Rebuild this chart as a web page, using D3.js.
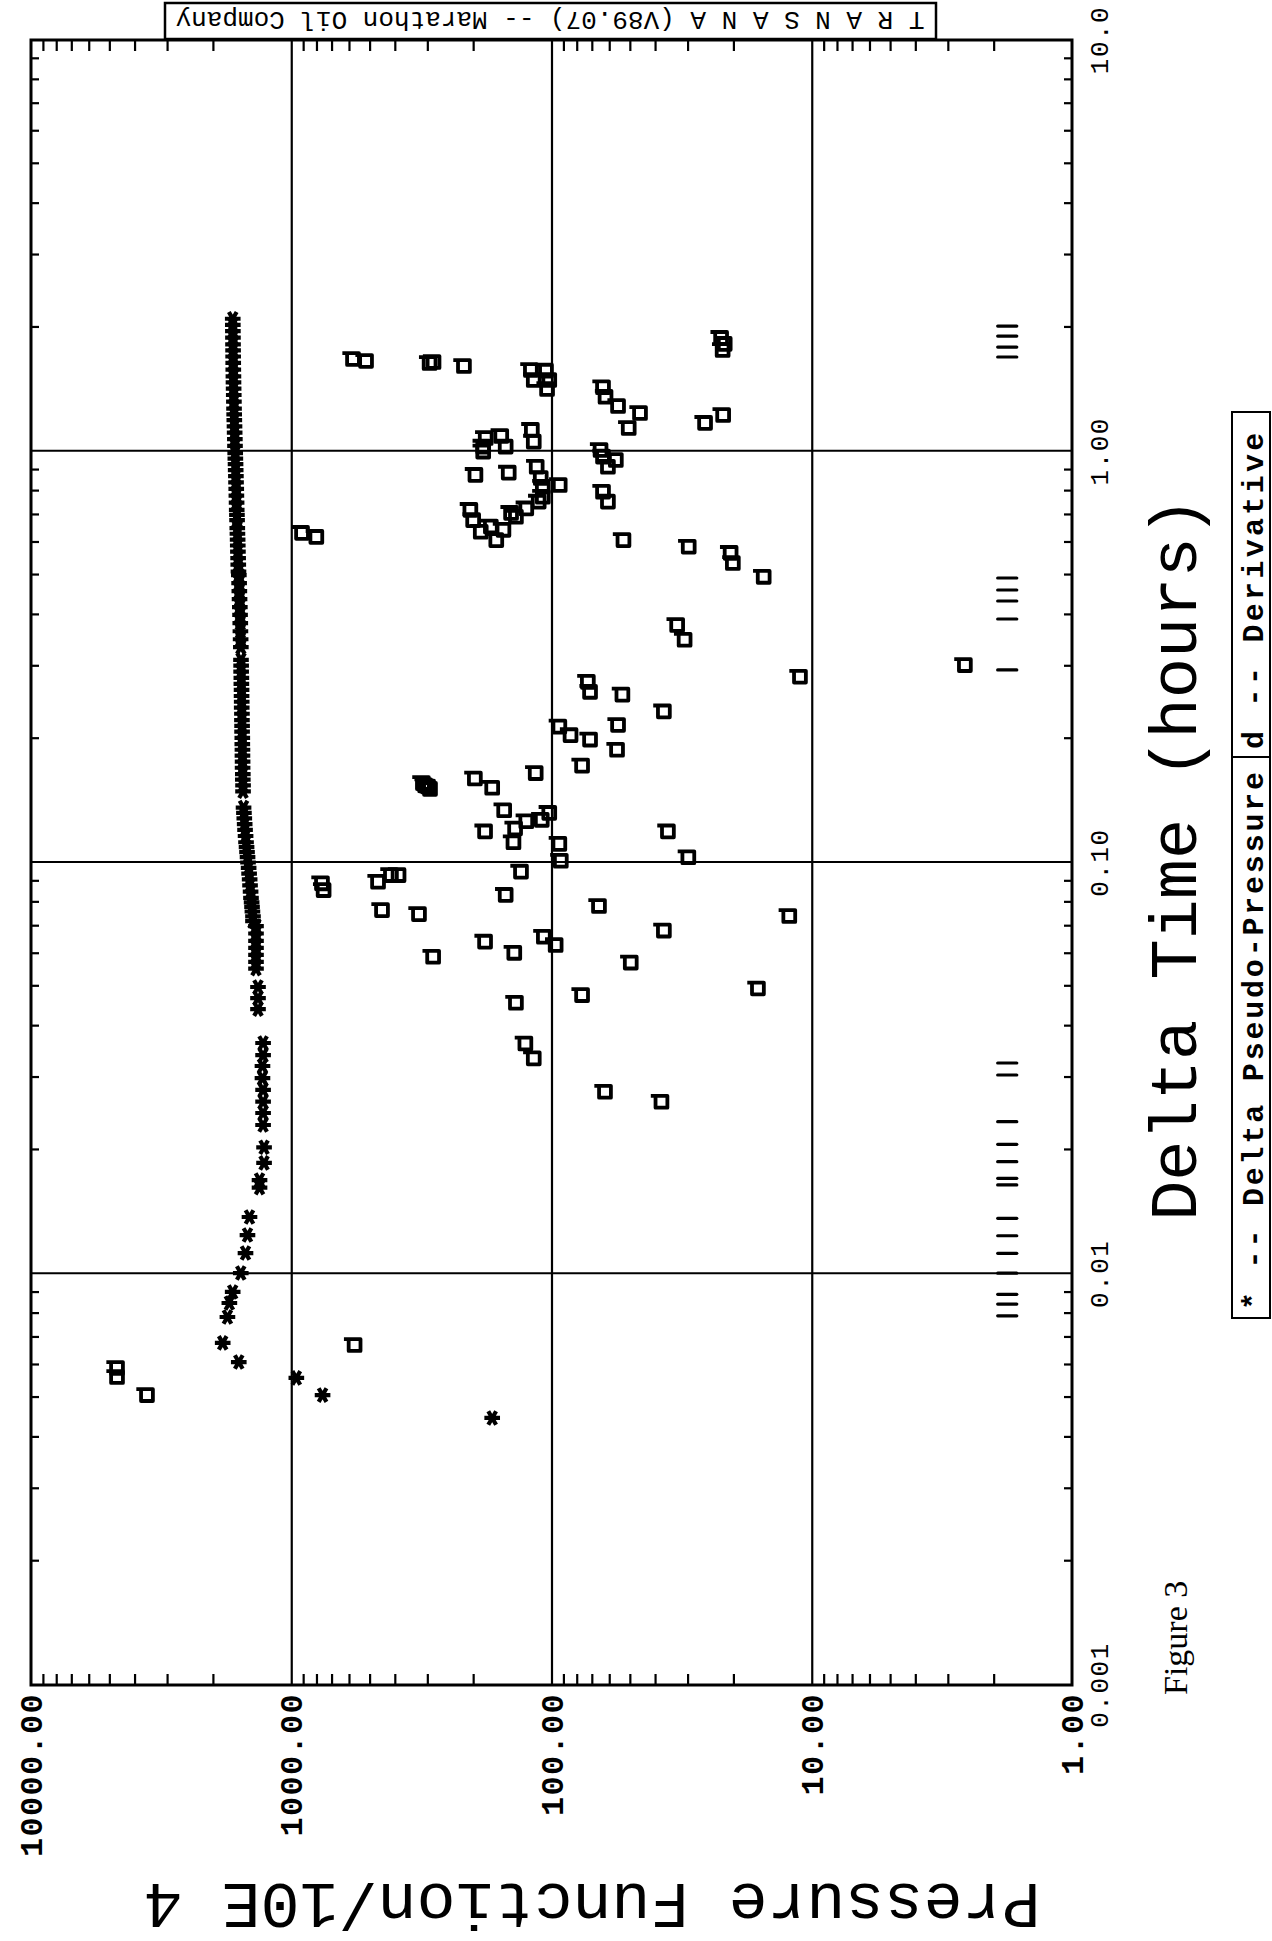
<!DOCTYPE html>
<html>
<head>
<meta charset="utf-8">
<script src="https://cdn.jsdelivr.net/npm/d3@7/dist/d3.min.js"></script>
<style>
  body { margin: 0; background: #fff; }
  svg { display: block; }
  .axe path.domain { display: none; }
  .axe line { stroke: #000; }
</style>
</head>
<body>
<div id="graph"></div>
<script>
// constantes : page en portrait, le graphe est dessiné en paysage puis tourné de -90°
const pageW = 1272;
const pageH = 1941;

// zone du graphe dans le repère paysage
const x0 = 256, x1 = 1901;   // axe du temps
const y0 = 31, y1 = 1072;    // axe de la pression

// graduations
const timeMajor = [0.001, 0.01, 0.1, 1, 10];
const timeLabels = ["0.001", "0.01", "0.10", "1.00", "10.0"];
const pressMajor = [1, 10, 100, 1000, 10000];
const pressLabels = ["1.00", "10.00", "100.00", "1000.00", "10000.00"];
const minorMult = [2, 3, 4, 5, 6, 7, 8, 9];

// * -- Delta Pseudo-Pressure (heures, pression/10E4)
const starT = [0.00446, 0.00507, 0.00558, 0.00610, 0.00679, 0.00785, 0.00849, 0.00903,
    0.01004, 0.01123, 0.01242, 0.01374, 0.0162, 0.0169, 0.0186, 0.0203,
    0.0230, 0.0246, 0.0262, 0.0280, 0.0299, 0.0320, 0.0340, 0.0364,
    0.0440, 0.0468, 0.0498,
    0.0552, 0.0573, 0.0596, 0.0620, 0.0645, 0.0672, 0.0700,
    0.072, 0.074, 0.076, 0.078, 0.080, 0.082, 0.085, 0.088, 0.091, 0.094, 0.097,
    0.100, 0.103, 0.106, 0.109, 0.112, 0.116, 0.120, 0.124, 0.128, 0.132, 0.136,
    0.149, 0.154, 0.159, 0.164, 0.170, 0.176, 0.182, 0.188, 0.194, 0.201, 0.208, 0.215,
    0.222, 0.230, 0.238, 0.246, 0.254, 0.263, 0.272, 0.281, 0.291, 0.301, 0.311,
    0.334, 0.349, 0.365, 0.382, 0.400, 0.418, 0.437, 0.457, 0.478, 0.500,
    0.51, 0.53, 0.55, 0.57, 0.59, 0.61, 0.63, 0.65, 0.68, 0.70, 0.72, 0.75, 0.78, 0.81,
    0.84, 0.87, 0.90, 0.93, 0.96, 0.99, 1.03, 1.07, 1.11, 1.15, 1.19, 1.23, 1.27, 1.32,
    1.37, 1.42, 1.47, 1.52, 1.58, 1.64, 1.70, 1.76, 1.82, 1.89, 1.96, 2.03, 2.10];
const starP = [169, 758, 956, 1591, 1834, 1759, 1729, 1679,
    1563, 1499, 1473, 1447, 1324, 1324, 1272, 1272,
    1283, 1283, 1283, 1283, 1290, 1290, 1283, 1283,
    1342, 1342, 1342,
    1366, 1366, 1366, 1366, 1366, 1366, 1366,
    1403, 1403, 1410, 1415, 1420, 1428, 1433, 1440, 1445, 1452, 1458,
    1466, 1472, 1479, 1485, 1492, 1498, 1505, 1510, 1515, 1520, 1525,
    1532, 1532, 1535, 1535, 1538, 1538, 1540, 1540, 1542, 1542, 1545, 1545,
    1547, 1547, 1550, 1550, 1552, 1552, 1555, 1555, 1558, 1558, 1560,
    1562, 1565, 1568, 1570, 1573, 1576, 1580, 1583, 1586, 1590,
    1595, 1598, 1600, 1603, 1605, 1607, 1610, 1612, 1615, 1617, 1620, 1622, 1625, 1627,
    1630, 1632, 1635, 1637, 1640, 1642, 1645, 1647, 1650, 1652, 1655, 1657, 1659, 1661,
    1663, 1665, 1667, 1668, 1670, 1671, 1672, 1673, 1674, 1675, 1676, 1677, 1678];

// d -- Derivative
const derT = [1.676, 1.658, 1.639, 1.648, 1.612, 1.576, 1.570, 1.490, 1.490, 1.417,
    1.431, 1.357, 1.288, 1.239, 1.139, 1.172, 1.225, 1.886, 1.824, 1.763,
    1.077, 1.089, 1.026, 1.026, 0.998, 1.127, 1.055, 0.876, 0.887, 0.917,
    0.861, 0.820, 0.828, 0.775, 1.007, 0.970, 0.952, 0.917, 0.797, 0.754,
    0.720, 0.680, 0.637, 0.608, 0.656, 0.644, 0.708, 0.693, 0.726, 0.754,
    0.633, 0.619, 0.608, 0.586, 0.566, 0.535, 0.495, 0.378, 0.348, 0.302,
    0.283, 0.275, 0.260, 0.256,
    0.233, 0.214, 0.204, 0.199, 0.216, 0.188, 0.172, 0.165, 0.160, 0.152,
    0.156, 0.154, 0.153, 0.151, 0.134, 0.126, 0.127, 0.132, 0.119, 0.121,
    0.112, 0.111, 0.101, 0.119, 0.103, 0.095, 0.0932, 0.0932, 0.0898, 0.0890,
    0.0857, 0.0834, 0.0766, 0.0749, 0.0784, 0.0741, 0.0683, 0.0642, 0.0660, 0.0630,
    0.0603, 0.0590, 0.0571, 0.0494, 0.0476, 0.0456, 0.0363, 0.0334, 0.0277, 0.0262,
    0.00671, 0.00590, 0.00561, 0.00507];
const derP = [579, 516, 294, 284, 217, 120, 105, 117, 102, 104,
    63.4, 62.0, 55.5, 45.7, 50.5, 25.7, 21.9, 22.3, 21.6, 22.0,
    179, 156, 183, 150, 183, 119, 117, 196, 146, 114,
    110, 108, 93.0, 108, 64.8, 63.4, 56.6, 60.7, 63.4, 60.7,
    205, 200, 187, 163, 171, 153, 143, 137, 125, 112,
    909, 801, 52.9, 29.7, 20.5, 20.1, 15.3, 32.9, 30.8, 2.58,
    11.1, 72.5, 71.1, 53.4,
    37.0, 93.3, 84.5, 71.1, 55.5, 56.0, 76.3, 115, 197, 169,
    312, 306, 298, 293, 152, 125, 109, 102, 180, 138,
    140, 93.3, 92.1, 35.7, 29.8, 131, 414, 387, 464, 762,
    751, 150, 448, 323, 65.7, 12.2, 37.0, 180, 107, 96.4,
    139, 285, 49.6, 16.1, 76.3, 137, 126, 117, 62.3, 37.8,
    571, 4672, 4672, 3584];

// repères verticaux près du bas de l'échelle
const flagT = [2.016, 1.906, 1.792, 1.695,
    0.4918, 0.4598, 0.4324, 0.3909, 0.2939,
    0.03254, 0.03043,
    0.02343, 0.02064, 0.01873, 0.01706, 0.01644, 0.01364, 0.01237, 0.01121, 0.01003,
    0.00891, 0.00844, 0.00790];
const flagTop = 1.93, flagBottom = 1.63;

// création du svg
const svg = d3.select("#graph")
    .append("svg")
    .attr("width", pageW)
    .attr("height", pageH)

// groupe tourné
const g = svg.append("g")
    .attr("transform", "translate(0," + pageH + ") rotate(-90)")

// échelles
let xScale = d3.scaleLog().domain([0.001, 10]).range([x0, x1])
let yScale = d3.scaleLog().domain([1, 10000]).range([y1, y0])

// grille
g.append("g")
    .attr("class", "axe")
    .attr("transform", "translate(0," + y1 + ")")
    .call(d3.axisBottom(xScale).tickValues([0.01, 0.1, 1]).tickSize(-(y1 - y0)).tickFormat(""))
    .selectAll("line").attr("stroke-width", 2.2)

g.append("g")
    .attr("class", "axe")
    .attr("transform", "translate(" + x0 + ",0)")
    .call(d3.axisLeft(yScale).tickValues([10, 100, 1000]).tickSize(-(x1 - x0)).tickFormat(""))
    .selectAll("line").attr("stroke-width", 2.2)

// petites graduations
let minorT = [];
[0.001, 0.01, 0.1, 1].forEach(dec => minorMult.forEach(m => minorT.push(dec * m)));
let minorP = [];
[1, 10, 100, 1000].forEach(dec => minorMult.forEach(m => minorP.push(dec * m)));

g.append("g").attr("class", "axe")
    .attr("transform", "translate(0," + y1 + ")")
    .call(d3.axisBottom(xScale).tickValues(minorT).tickSize(-8).tickFormat(""))
    .selectAll("line").attr("stroke-width", 2.2)
g.append("g").attr("class", "axe")
    .attr("transform", "translate(0," + y0 + ")")
    .call(d3.axisTop(xScale).tickValues(minorT).tickSize(-8).tickFormat(""))
    .selectAll("line").attr("stroke-width", 2.2)
g.append("g").attr("class", "axe")
    .attr("transform", "translate(" + x0 + ",0)")
    .call(d3.axisLeft(yScale).tickValues(minorP).tickSize(-11).tickFormat(""))
    .selectAll("line").attr("stroke-width", 2.2)
g.append("g").attr("class", "axe")
    .attr("transform", "translate(" + x1 + ",0)")
    .call(d3.axisRight(yScale).tickValues(minorP).tickSize(-11).tickFormat(""))
    .selectAll("line").attr("stroke-width", 2.2)

// cadre
g.append("rect")
    .attr("x", x0).attr("y", y0)
    .attr("width", x1 - x0).attr("height", y1 - y0)
    .attr("fill", "none").attr("stroke", "#000").attr("stroke-width", 3)

// étiquettes du temps
g.selectAll(".labT").data(timeMajor).enter()
    .append("text")
    .attr("class", "labT")
    .attr("x", d => xScale(d))
    .attr("y", y1 + 36)
    .attr("text-anchor", "middle")
    .attr("font-family", "Liberation Mono, monospace")
    .attr("font-size", "26px")
    .attr("letter-spacing", "1.5px")
    .text((d, i) => timeLabels[i])

// étiquettes de la pression
g.selectAll(".labP").data(pressMajor).enter()
    .append("text")
    .attr("class", "labP")
    .attr("x", x0 - 8)
    .attr("y", d => yScale(d))
    .attr("dy", "0.35em")
    .attr("text-anchor", "end")
    .attr("font-family", "Liberation Mono, monospace")
    .attr("font-weight", "bold")
    .attr("font-size", "32px")
    .attr("letter-spacing", "1.3px")
    .text((d, i) => pressLabels[i])

// titres
g.append("text")
    .attr("x", 1082)
    .attr("y", 1196)
    .attr("text-anchor", "middle")
    .attr("font-family", "Liberation Mono, monospace")
    .attr("font-size", "67px")
    .text("Delta Time (hours)")

g.append("text")
    .attr("transform", "translate(57,592) rotate(-90)")
    .attr("text-anchor", "middle")
    .attr("font-family", "Liberation Mono, monospace")
    .attr("font-size", "65px")
    .text("Pressure Function/10E 4")

// en-tête
g.append("rect")
    .attr("x", 1902).attr("y", 165)
    .attr("width", 36).attr("height", 771)
    .attr("fill", "#fff").attr("stroke", "#000").attr("stroke-width", 2.5)
g.append("text")
    .attr("transform", "translate(1929,550) rotate(-90)")
    .attr("text-anchor", "middle")
    .attr("font-family", "Liberation Mono, monospace")
    .attr("font-size", "26px")
    .text("T R A N S A N A (V89.07) -- Marathon Oil Company")

// légende
g.append("rect")
    .attr("x", 623).attr("y", 1232)
    .attr("width", 906).attr("height", 38)
    .attr("fill", "none").attr("stroke", "#000").attr("stroke-width", 2)
g.append("line")
    .attr("x1", 1184).attr("x2", 1184)
    .attr("y1", 1232).attr("y2", 1270)
    .attr("stroke", "#000").attr("stroke-width", 2)
g.append("text")
    .attr("x", 631).attr("y", 1263)
    .attr("font-family", "Liberation Mono, monospace")
    .attr("font-weight", "bold")
    .attr("font-size", "30px")
    .attr("letter-spacing", "2.8px")
    .text("* -- Delta Pseudo-Pressure")
g.append("text")
    .attr("x", 1192).attr("y", 1263)
    .attr("font-family", "Liberation Mono, monospace")
    .attr("font-weight", "bold")
    .attr("font-size", "30px")
    .attr("letter-spacing", "3.3px")
    .text("d -- Derivative")

g.append("text")
    .attr("x", 246).attr("y", 1187)
    .attr("font-family", "Liberation Serif, serif")
    .attr("font-size", "34px")
    .text("Figure 3")

// symboles
const symbolStar = {
    draw(ctx, size) {
        const r = Math.sqrt(size) * 0.6;
        const t = r / 2, u = t * Math.sqrt(3);
        ctx.moveTo(0, r); ctx.lineTo(0, -r);
        ctx.moveTo(-u, -t); ctx.lineTo(u, t);
        ctx.moveTo(-u, t); ctx.lineTo(u, -t);
    }
};
const symbolD = {
    draw(ctx, size) {
        const a = Math.sqrt(size) / 2;
        ctx.moveTo(a, -a * 1.8);
        ctx.lineTo(a, a);
        ctx.lineTo(-a, a);
        ctx.lineTo(-a, -a);
        ctx.lineTo(a, -a);
    }
};

let stars = starT.map((t, i) => ({ t: t, p: starP[i] }));
let ders = derT.map((t, i) => ({ t: t, p: derP[i] }));

g.selectAll(".star").data(stars).enter()
    .append("path")
    .attr("class", "star")
    .attr("d", d3.symbol().type(symbolStar).size(170))
    .attr("transform", d => "translate(" + xScale(d.t) + "," + yScale(d.p) + ")")
    .attr("fill", "none").attr("stroke", "#000").attr("stroke-width", 4.2)

g.selectAll(".der").data(ders).enter()
    .append("path")
    .attr("class", "der")
    .attr("d", d3.symbol().type(symbolD).size(140))
    .attr("transform", d => "translate(" + xScale(d.t) + "," + yScale(d.p) + ")")
    .attr("fill", "none").attr("stroke", "#000").attr("stroke-width", 3.8)
    .attr("stroke-linejoin", "round")

g.selectAll(".flag").data(flagT).enter()
    .append("line")
    .attr("class", "flag")
    .attr("x1", d => xScale(d)).attr("x2", d => xScale(d))
    .attr("y1", yScale(flagTop)).attr("y2", yScale(flagBottom))
    .attr("stroke", "#000").attr("stroke-width", 3.2).attr("stroke-linecap", "round")
</script>
</body>
</html>
